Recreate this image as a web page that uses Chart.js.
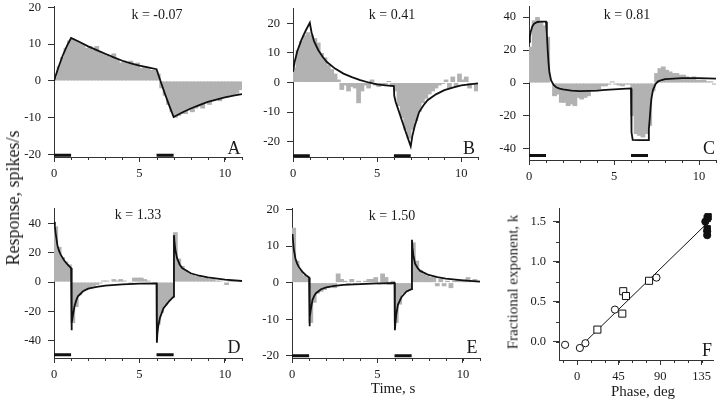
<!DOCTYPE html>
<html>
<head>
<meta charset="utf-8">
<script src="https://cdn.jsdelivr.net/npm/chart.js@4.4.0/dist/chart.umd.min.js"></script>
<style>
  html, body { margin: 0; padding: 0; background: #fff; }
  #fig { position: relative; width: 720px; height: 402px; overflow: hidden; font-family: "Liberation Serif", serif; color: #1a1a1a; }
  #fig canvas { position: absolute; }
  .lbl { position: absolute; transform: translate(-50%, -50%); white-space: nowrap; line-height: 1; }
  .k { font-size: 14px; }
  .letter { font-size: 18px; }
  .title { font-size: 15px; }
  .rot { transform: translate(-50%, -50%) rotate(-90deg); }
</style>
</head>
<body>
<div id="fig">
  <canvas id="chart-a"></canvas>
  <canvas id="chart-b"></canvas>
  <canvas id="chart-c"></canvas>
  <canvas id="chart-d"></canvas>
  <canvas id="chart-e"></canvas>
  <canvas id="chart-f"></canvas>

  <div class="lbl k" style="left:157px;top:15px">k = -0.07</div>
  <div class="lbl k" style="left:392px;top:15px">k = 0.41</div>
  <div class="lbl k" style="left:627px;top:15px">k = 0.81</div>
  <div class="lbl k" style="left:138px;top:215px">k = 1.33</div>
  <div class="lbl k" style="left:392px;top:216px">k = 1.50</div>

  <div class="lbl letter" style="left:234px;top:148px">A</div>
  <div class="lbl letter" style="left:469px;top:148px">B</div>
  <div class="lbl letter" style="left:709px;top:148px">C</div>
  <div class="lbl letter" style="left:234px;top:347px">D</div>
  <div class="lbl letter" style="left:472px;top:347px">E</div>
  <div class="lbl letter" style="left:707px;top:350px">F</div>

  <div class="lbl title rot" style="left:13px;top:198px;font-size:18px">Response, spikes/s</div>
  <div class="lbl title" style="left:393px;top:388px">Time, s</div>
  <div class="lbl title" style="left:643px;top:391px">Phase, deg</div>
  <div class="lbl title rot" style="left:513px;top:282px">Fractional exponent, k</div>
</div>

<script>
//
// Data
//

// histogram bin centres, s (0.2 s bins)
var binT = [0.1, 0.3, 0.5, 0.7, 0.9, 1.1, 1.3, 1.5, 1.7, 1.9, 2.1, 2.3, 2.5, 2.7, 2.9,
  3.1, 3.3, 3.5, 3.7, 3.9, 4.1, 4.3, 4.5, 4.7, 4.9, 5.1, 5.3, 5.5, 5.7, 5.9,
  6.1, 6.3, 6.5, 6.7, 6.9, 7.1, 7.3, 7.5, 7.7, 7.9, 8.1, 8.3, 8.5, 8.7, 8.9,
  9.1, 9.3, 9.5, 9.7, 9.9, 10.1, 10.3, 10.5, 10.7, 10.9];

// stimulus on / off times, s
var stimOn = [0, 6];
var stimOff = [1, 7];

// A: k = -0.07
var histA = [1, 4, 6.5, 9, 11, 11.5, 11, 10.5, 10, 9, 9.5, 8.5, 9.5, 8, 7.5,
  7, 6.5, 7.5, 6, 5, 5.5, 5, 5.5, 4.5, 5, 3.5, 4, 3.5, 3, 3,
  2, -2, -4, -6.5, -8.5, -10, -9.5, -9, -9, -8, -8.5, -7.5, -7, -7.5, -6,
  -6.5, -5.5, -5, -5.5, -4.5, -4.5, -4, -4, -3.5, -2.5];
var fitTA = [0, 0.25, 0.5, 0.75, 1, 1.5, 2, 2.5, 3, 3.5, 4, 4.5, 5, 5.5, 6,
  6.25, 6.5, 6.75, 7, 7.5, 8, 8.5, 9, 9.5, 10, 10.5, 11];
var fitYA = [0, 3.6, 6.8, 9.5, 11.7, 10.6, 9.4, 8.4, 7.4, 6.4, 5.5, 4.8, 4.2, 3.7, 3.2,
  -0.3, -3.6, -6.8, -9.8, -8.6, -7.5, -6.6, -5.7, -5.1, -4.5, -4.0, -3.6];

// B: k = 0.41
var histB = [5, 11, 14, 16, 17, 16, 15, 13.5, 10, 8.5, 6, 4.5, 3, 1, -2.5,
  -1, -3, -1.5, -2, -7, -3, -1, -2, 1, -1, -1.5, -0.5, -1, 0.5, -1,
  -3, -8, -12, -16, -19, -16, -13, -10, -7, -5.5, -4, -3, -2, -1, -0.5,
  1, -2, 2, -1.5, 3, 1, 2, -2, 0, -3];
var fitTB = [0, 0.1, 0.25, 0.5, 0.75, 1, 1.1, 1.25, 1.5, 1.75, 2, 2.5, 3, 3.5, 4, 4.5, 5, 5.5, 6,
  6.02, 6.1, 6.25, 6.5, 6.75, 7, 7.1, 7.25, 7.5, 7.75, 8, 8.5, 9, 9.5, 10, 10.5, 11];
var fitYB = [3.6, 7, 10.5, 14.4, 17.5, 20.2, 17, 14, 11, 8.8, 7, 4.7, 3, 1.8, 0.8, 0, -0.6, -1, -1.2,
  -4.5, -6.5, -9, -13.3, -17.5, -21.6, -18, -14.5, -10, -7.8, -6, -4, -2.6, -1.7, -1, -0.6, -0.3];

// C: k = 0.81
var histC = [22, 38, 40, 37, 35, 28, 0, -8, -7, -12, -12, -14, -13, -14, -9,
  -10, -9, -8, -5, -5, -4, -2, -2, -1, 1, -1, -1.5, -2, -1, -1,
  -20, -31, -32, -33, -31, -26, -5, 6, 9, 10, 8, 7, 6, 6, 5,
  5, 4, 3, 4, 2, 2, 2, 1, 1, -1];
var fitTC = [0, 0.05, 0.1, 0.2, 0.3, 0.5, 0.7, 1, 1.05, 1.1, 1.15, 1.2, 1.3, 1.45, 1.6, 1.8, 2,
  2.5, 3, 3.5, 4, 4.5, 5, 5.5, 6, 6.03, 6.1, 6.5, 7, 7.05, 7.1, 7.15, 7.2, 7.3, 7.45, 7.6, 7.8,
  8, 8.5, 9, 10, 11];
var fitYC = [25, 28, 31, 34.5, 36, 37, 37.2, 37.2, 30, 20, 12, 6.5, 1.5, -1.2, -2.6, -3.4, -3.9,
  -4.6, -4.9, -4.8, -4.6, -4.2, -3.9, -3.6, -3.3, -30, -34.5, -34.6, -34.6, -28, -22, -15, -9.5, -4, -0.5, 1, 1.8,
  2.3, 2.7, 2.9, 3, 2.6];

// D: k = 1.33
var histD = [38, 24, 17, 14, 12, -28, -17, -9, -6, -5, -4, -3, -2, -1, 1,
  1, 0, 2, 1, 2, 1, 0, -1, 3, 3, 3, 2, 1, 0, -1,
  -29, -21, -16, -13, -11, 34, 16, 11, 8, 6, 5, 4, 4, 3, 3,
  2, 2, 1, 1, 0, -2, 1, 1, 0, 0];
var fitTD = [0.03, 0.05, 0.1, 0.2, 0.3, 0.4, 0.6, 0.8, 1, 1.02, 1.05, 1.1, 1.2, 1.3, 1.4, 1.7, 2,
  2.5, 3, 4, 5, 6, 6.02, 6.05, 6.1, 6.2, 6.4, 6.7, 7, 7.02, 7.05, 7.1, 7.2, 7.35, 7.5,
  8, 8.5, 9, 10, 11];
var fitYD = [41, 38, 33, 25, 21, 18.5, 14.7, 11.8, 9.5, -32.8, -28, -23, -16.5, -12.5, -9.7, -6.3, -4.5,
  -3.3, -2.5, -1.6, -1.1, -0.9, -41.4, -35, -30, -24.4, -18, -13.5, -10, 32, 27, 22, 16.3, 12, 9.5,
  6, 4.3, 3.2, 1.6, 0.7];

// E: k = 1.50
var histE = [15, 6, 3.5, 2, 1.5, -11, -5.5, -3, -2.5, -2, -1.5, -1, -1.5, 2.5, 1,
  0.5, -0.5, 1, -0.5, 0.5, -0.5, 0.5, 1, 1, 1.5, -0.5, 2.5, 1.5, -0.5, 0.5,
  -11, -6, -3, -2.5, -2, 11, 6, 3.5, 2.5, 2, 1.5, 1.5, -1, 1, -1,
  0.5, -1.5, 0.5, 1, 0.5, 1, 1.5, 0.5, 1, 0.5];
var fitTE = [0.03, 0.1, 0.2, 0.3, 0.4, 0.6, 0.8, 1, 1.02, 1.05, 1.1, 1.2, 1.3, 1.4, 1.7, 2,
  2.5, 3, 4, 5, 6, 6.02, 6.05, 6.1, 6.2, 6.4, 6.7, 7, 7.02, 7.05, 7.1, 7.2, 7.35, 7.5,
  8, 8.5, 9, 10, 11];
var fitYE = [13.3, 9.3, 6.6, 5.2, 4.3, 3, 2.1, 1.4, -11.9, -9.5, -7.4, -4.7, -3.6, -2.9, -1.8, -1.3,
  -0.9, -0.6, -0.4, -0.2, -0.1, -13, -11, -8.7, -6, -4, -2.4, -1.8, 11.7, 9.5, 7.5, 5.2, 4, 3.2,
  2.1, 1.5, 1.1, 0.6, 0.3];

// F: fractional exponent vs phase
var phaseOpenCircles = [-13, 3, 9, 41, 86];
var kOpenCircles = [-0.04, -0.08, -0.02, 0.40, 0.80];
var phaseOpenSquares = [22, 49, 50, 53, 78];
var kOpenSquares = [0.15, 0.35, 0.63, 0.57, 0.76];
var phaseFilledCircles = [139, 141, 141];
var kFilledCircles = [1.50, 1.33, 1.38];
var phaseFilledSquares = [141, 142, 141];
var kFilledSquares = [1.54, 1.56, 1.41];
var phaseFitLine = [2, 141];
var kFitLine = [-0.08, 1.48];

//
// Panels
//

var Panels = (function () {
  var AXIS = "#333";
  var INK = "#111";
  var BAR = "#b2b2b2";
  var FONT = "'Liberation Serif', 'Times New Roman', serif";

  function points(xs, ys) {
    return xs.map(function (x, i) { return { x: x, y: ys[i] }; });
  }

  function stimPoints(level) {
    var pts = [];
    for (var i = 0; i < stimOn.length; i++) {
      if (i > 0) pts.push({ x: (stimOff[i - 1] + stimOn[i]) / 2, y: null });
      pts.push({ x: stimOn[i], y: level }, { x: stimOff[i], y: level });
    }
    return pts;
  }

  // short unlabelled ticks between the major ones
  function minorTicks(xStep, yStep) {
    return {
      id: "minorTicks",
      afterDraw: function (chart) {
        var ctx = chart.ctx, a = chart.chartArea, v, p;
        ctx.save();
        ctx.strokeStyle = AXIS;
        ctx.lineWidth = 1;
        ctx.beginPath();
        if (xStep) {
          var sx = chart.scales.x;
          for (v = Math.ceil(sx.min / xStep) * xStep; v <= sx.max + 1e-9; v += xStep) {
            p = Math.round(sx.getPixelForValue(v)) + 0.5;
            ctx.moveTo(p, Math.round(a.bottom));
            ctx.lineTo(p, Math.round(a.bottom) + 3);
          }
        }
        if (yStep) {
          var sy = chart.scales.y;
          for (v = Math.ceil(sy.min / yStep) * yStep; v <= sy.max + 1e-9; v += yStep) {
            p = Math.round(sy.getPixelForValue(v)) + 0.5;
            ctx.moveTo(Math.round(a.left) - 3, p);
            ctx.lineTo(Math.round(a.left), p);
          }
        }
        ctx.stroke();
        ctx.restore();
      }
    };
  }

  function axis(isY, min, max, step, fmt) {
    var ax = {
      type: "linear",
      min: min,
      max: max,
      offset: false,
      grid: { display: true, drawOnChartArea: false, drawTicks: true, tickLength: isY ? 6 : 5, tickColor: AXIS, offset: false },
      border: { display: true, color: AXIS, width: 1 },
      ticks: {
        stepSize: step,
        includeBounds: false,
        autoSkip: false,
        maxRotation: 0,
        color: "#1a1a1a",
        font: { family: FONT, size: 12.5 },
        padding: isY ? 7 : 4
      },
      afterFit: function (s) {
        if (isY) { s.width = 50; s.paddingTop = 0; s.paddingBottom = 0; }
        else { s.height = 28; s.paddingLeft = 0; s.paddingRight = 0; }
      }
    };
    if (fmt) ax.ticks.callback = fmt;
    return ax;
  }

  // box = page pixels of the plot frame (y axis x, top, right end, x axis y)
  function place(id, box, cfg) {
    var canvas = document.getElementById(id);
    var padTop = Math.min(box.top, 10);
    canvas.width = 50 + (box.right - box.left) + 6;
    canvas.height = padTop + (box.bottom - box.top) + 28;
    canvas.style.left = (box.left - 50) + "px";
    canvas.style.top = (box.top - padTop) + "px";
    cfg.options.layout = { padding: { left: 0, right: 6, top: padTop, bottom: 0 } };
    cfg.options.responsive = false;
    cfg.options.animation = false;
    cfg.options.plugins = { legend: { display: false }, tooltip: { enabled: false } };
    return new Chart(canvas, cfg);
  }

  // Init response panel
  function initResponse(id, box, hist, fitT, fitY, yMin, yMax, yStep, stimLevel) {
    return place(id, box, {
      type: "bar",
      data: {
        datasets: [
          {
            type: "line",
            data: points(fitT, fitY),
            borderColor: INK,
            borderWidth: 1.8,
            pointRadius: 0,
            tension: 0,
            order: 0
          },
          {
            type: "line",
            data: stimPoints(stimLevel),
            borderColor: INK,
            borderWidth: 3,
            borderCapStyle: "butt",
            pointRadius: 0,
            spanGaps: false,
            order: 1
          },
          {
            data: points(binT, hist),
            backgroundColor: BAR,
            borderColor: BAR,
            borderWidth: 0,
            barPercentage: 1.4,
            categoryPercentage: 1,
            order: 2
          }
        ]
      },
      options: {
        scales: {
          x: axis(false, 0, 11, 5),
          y: axis(true, yMin, yMax, yStep)
        }
      },
      plugins: [minorTicks(1, 0)]
    });
  }

  initResponse("chart-a", { left: 54, top: 6, right: 242, bottom: 157 }, histA, fitTA, fitYA, -20.7, 20.4, 10, -20.2);
  initResponse("chart-b", { left: 293, top: 8, right: 478, bottom: 157 }, histB, fitTB, fitYB, -25.2, 25.2, 10, -24.8);
  initResponse("chart-c", { left: 529, top: 6, right: 716, bottom: 160 }, histC, fitTC, fitYC, -46.7, 46.7, 20, -44);
  initResponse("chart-d", { left: 54, top: 208, right: 242, bottom: 358 }, histD, fitTD, fitYD, -51.8, 50.5, 20, -49.5);
  initResponse("chart-e", { left: 292, top: 208, right: 480, bottom: 358 }, histE, fitTE, fitYE, -20.6, 20.4, 10, -20);

  // Init exponent vs phase panel
  place("chart-f", { left: 559, top: 208, right: 713, bottom: 360 }, {
    type: "scatter",
    data: {
      datasets: [
        {
          type: "line",
          data: points(phaseFitLine, kFitLine),
          borderColor: INK,
          borderWidth: 1,
          pointRadius: 0,
          order: 4
        },
        {
          data: points(phaseOpenCircles, kOpenCircles),
          pointStyle: "circle",
          pointRadius: 3.6,
          borderColor: INK,
          borderWidth: 1,
          backgroundColor: "#fff",
          order: 3
        },
        {
          data: points(phaseOpenSquares, kOpenSquares),
          pointStyle: "rect",
          pointRadius: 5,
          borderColor: INK,
          borderWidth: 1,
          backgroundColor: "#fff",
          order: 2
        },
        {
          data: points(phaseFilledCircles, kFilledCircles),
          pointStyle: "circle",
          pointRadius: 3.6,
          borderColor: INK,
          borderWidth: 1,
          backgroundColor: INK,
          order: 1
        },
        {
          data: points(phaseFilledSquares, kFilledSquares),
          pointStyle: "rect",
          pointRadius: 4.5,
          borderColor: INK,
          borderWidth: 1,
          backgroundColor: INK,
          order: 0
        }
      ]
    },
    options: {
      scales: {
        x: axis(false, -19.6, 147.3, 45),
        y: axis(true, -0.23, 1.67, 0.5, function (v) { return v.toFixed(1); })
      }
    },
    plugins: [minorTicks(15, 0.25)]
  });
})();
</script>
</body>
</html>
